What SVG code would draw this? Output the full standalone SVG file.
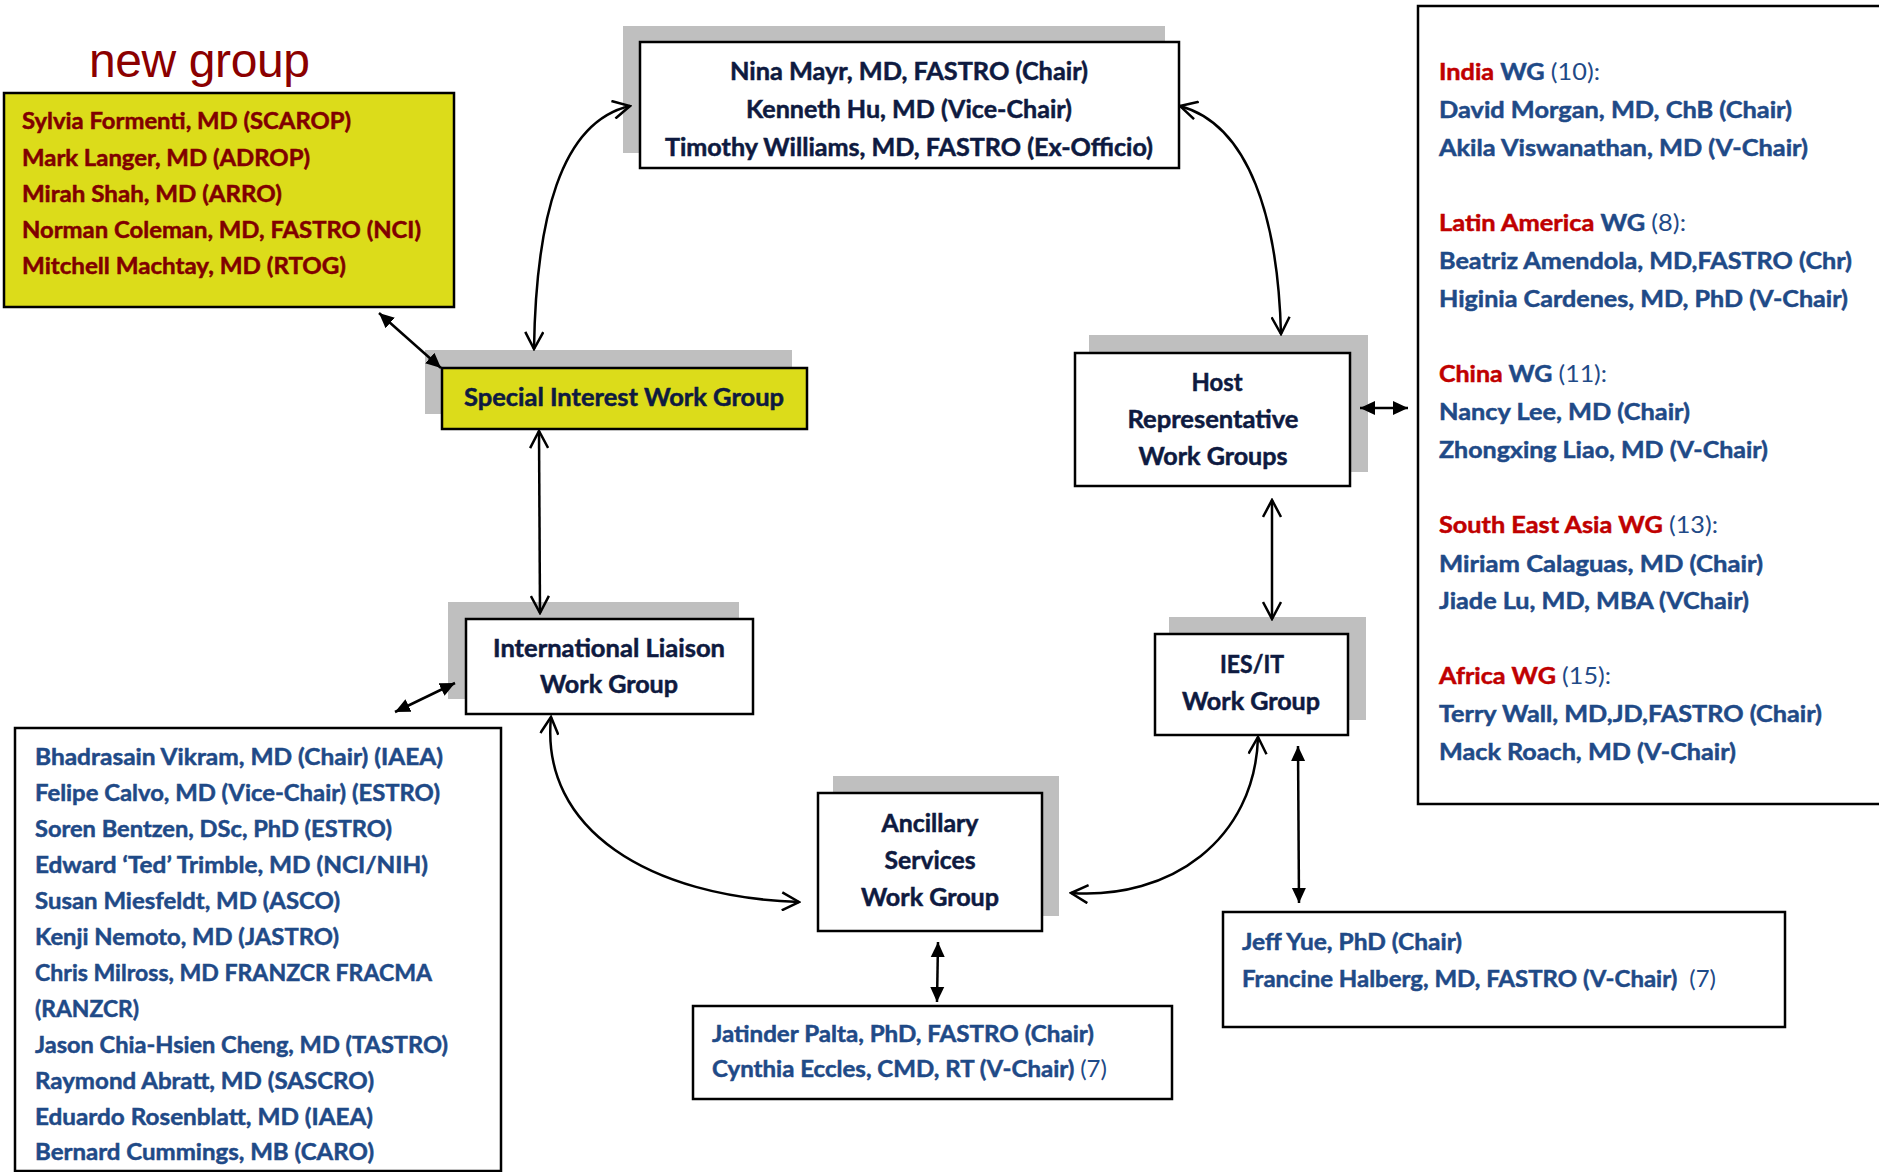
<svg xmlns="http://www.w3.org/2000/svg" width="1879" height="1172" viewBox="0 0 1879 1172">
<style>
.box{fill:#fff;stroke:#000;stroke-width:2.5}
.ybox{fill:#dcdc1a;stroke:#000;stroke-width:2.5}
.shadow{fill:#bfbfbf}
.lbl{font-family:Lato,"Liberation Sans",sans-serif;font-weight:bold;font-size:24px;fill:#0e1a40;stroke:#0e1a40;stroke-width:0.5;text-anchor:middle}
.mem{font-family:Lato,"Liberation Sans",sans-serif;font-weight:bold;font-size:23px;fill:#1f4a87;stroke:#1f4a87;stroke-width:0.5}
.red{fill:#c00000;stroke:#c00000}
.reg{font-weight:normal;stroke-width:0}
.dred{font-family:Lato,"Liberation Sans",sans-serif;font-weight:bold;font-size:23px;fill:#800000;stroke:#800000;stroke-width:0.5}
.con{fill:none;stroke:#000;stroke-width:2.5}
</style>
<defs>
<marker id="open" viewBox="0 0 20 20" refX="18" refY="10" markerWidth="20" markerHeight="20" markerUnits="userSpaceOnUse" orient="auto-start-reverse">
<path d="M1,1 L18,10 L1,19" fill="none" stroke="#000" stroke-width="2.5"/>
</marker>
<marker id="fill" viewBox="0 0 16 16" refX="15" refY="8" markerWidth="16" markerHeight="16" markerUnits="userSpaceOnUse" orient="auto-start-reverse">
<path d="M0,1 L15,8 L0,15 Z" fill="#000"/>
</marker>
</defs>
<rect width="1879" height="1172" fill="#fff"/>

<text x="89" y="77" font-family="Liberation Sans, Arial, sans-serif" font-size="48" fill="#8b0000" textLength="221">new group</text>

<g id="new-group">
<rect class="ybox" x="4" y="93" width="450" height="214"/>
<text class="dred" x="22" y="129" textLength="329" lengthAdjust="spacingAndGlyphs">Sylvia Formenti, MD (SCAROP)</text>
<text class="dred" x="22" y="166" textLength="288" lengthAdjust="spacingAndGlyphs">Mark Langer, MD (ADROP)</text>
<text class="dred" x="22" y="202" textLength="260" lengthAdjust="spacingAndGlyphs">Mirah Shah, MD (ARRO)</text>
<text class="dred" x="22" y="238" textLength="399" lengthAdjust="spacingAndGlyphs">Norman Coleman, MD, FASTRO (NCI)</text>
<text class="dred" x="22" y="274" textLength="324" lengthAdjust="spacingAndGlyphs">Mitchell Machtay, MD (RTOG)</text>
</g>

<g id="chairs">
<rect class="shadow" x="623" y="26" width="542" height="127"/>
<rect class="box" x="640" y="42" width="539" height="126"/>
<text class="lbl" x="909" y="80" textLength="358" lengthAdjust="spacingAndGlyphs">Nina Mayr, MD, FASTRO (Chair)</text>
<text class="lbl" x="909" y="118" textLength="326" lengthAdjust="spacingAndGlyphs">Kenneth Hu, MD (Vice-Chair)</text>
<text class="lbl" x="909" y="156" textLength="488" lengthAdjust="spacingAndGlyphs">Timothy Williams, MD, FASTRO (Ex-Officio)</text>
</g>

<g id="siwg">
<rect class="shadow" x="425" y="350" width="367" height="64"/>
<rect class="ybox" x="442" y="368" width="365" height="61"/>
<text class="lbl" x="624" y="406" textLength="320" lengthAdjust="spacingAndGlyphs">Special Interest Work Group</text>
</g>

<g id="ilwg">
<rect class="shadow" x="448" y="602" width="291" height="97"/>
<rect class="box" x="466" y="619" width="287" height="95"/>
<text class="lbl" x="609" y="657" textLength="232" lengthAdjust="spacingAndGlyphs">International Liaison</text>
<text class="lbl" x="609" y="693" textLength="138" lengthAdjust="spacingAndGlyphs">Work Group</text>
</g>

<g id="host">
<rect class="shadow" x="1089" y="335" width="279" height="137"/>
<rect class="box" x="1075" y="353" width="275" height="133"/>
<text class="lbl" x="1217" y="391" textLength="51" lengthAdjust="spacingAndGlyphs">Host</text>
<text class="lbl" x="1213" y="428" textLength="171" lengthAdjust="spacingAndGlyphs">Representative</text>
<text class="lbl" x="1213" y="465" textLength="149" lengthAdjust="spacingAndGlyphs">Work Groups</text>
</g>

<g id="iesit">
<rect class="shadow" x="1169" y="617" width="197" height="103"/>
<rect class="box" x="1155" y="634" width="193" height="101"/>
<text class="lbl" x="1252" y="673" textLength="64" lengthAdjust="spacingAndGlyphs">IES/IT</text>
<text class="lbl" x="1251" y="710" textLength="138" lengthAdjust="spacingAndGlyphs">Work Group</text>
</g>

<g id="ancillary">
<rect class="shadow" x="833" y="776" width="226" height="140"/>
<rect class="box" x="818" y="793" width="224" height="138"/>
<text class="lbl" x="930" y="832" textLength="97" lengthAdjust="spacingAndGlyphs">Ancillary</text>
<text class="lbl" x="930" y="869" textLength="91" lengthAdjust="spacingAndGlyphs">Services</text>
<text class="lbl" x="930" y="906" textLength="138" lengthAdjust="spacingAndGlyphs">Work Group</text>
</g>

<g id="regional-wgs">
<rect class="box" x="1418" y="6" width="480" height="798" stroke-width="2"/>
<text class="mem" x="1439" y="80" textLength="161" lengthAdjust="spacingAndGlyphs"><tspan class="red">India</tspan> WG <tspan class="reg">(10):</tspan></text>
<text class="mem" x="1439" y="118" textLength="353" lengthAdjust="spacingAndGlyphs">David Morgan, MD, ChB (Chair)</text>
<text class="mem" x="1439" y="156" textLength="369" lengthAdjust="spacingAndGlyphs">Akila Viswanathan, MD (V-Chair)</text>
<text class="mem" x="1439" y="231" textLength="247" lengthAdjust="spacingAndGlyphs"><tspan class="red">Latin America</tspan> WG <tspan class="reg">(8):</tspan></text>
<text class="mem" x="1439" y="269" textLength="413" lengthAdjust="spacingAndGlyphs">Beatriz Amendola, MD,FASTRO (Chr)</text>
<text class="mem" x="1439" y="307" textLength="409" lengthAdjust="spacingAndGlyphs">Higinia Cardenes, MD, PhD (V-Chair)</text>
<text class="mem" x="1439" y="382" textLength="168" lengthAdjust="spacingAndGlyphs"><tspan class="red">China</tspan> WG <tspan class="reg">(11):</tspan></text>
<text class="mem" x="1439" y="420" textLength="251" lengthAdjust="spacingAndGlyphs">Nancy Lee, MD (Chair)</text>
<text class="mem" x="1439" y="458" textLength="329" lengthAdjust="spacingAndGlyphs">Zhongxing Liao, MD (V-Chair)</text>
<text class="mem" x="1439" y="533" textLength="279" lengthAdjust="spacingAndGlyphs"><tspan class="red">South East Asia WG</tspan> <tspan class="reg">(13):</tspan></text>
<text class="mem" x="1439" y="572" textLength="324" lengthAdjust="spacingAndGlyphs">Miriam Calaguas, MD (Chair)</text>
<text class="mem" x="1439" y="609" textLength="310" lengthAdjust="spacingAndGlyphs">Jiade Lu, MD, MBA (VChair)</text>
<text class="mem" x="1439" y="684" textLength="172" lengthAdjust="spacingAndGlyphs"><tspan class="red">Africa WG</tspan> <tspan class="reg">(15):</tspan></text>
<text class="mem" x="1439" y="722" textLength="383" lengthAdjust="spacingAndGlyphs">Terry Wall, MD,JD,FASTRO (Chair)</text>
<text class="mem" x="1439" y="760" textLength="297" lengthAdjust="spacingAndGlyphs">Mack Roach, MD (V-Chair)</text>
</g>

<g id="il-members">
<rect class="box" x="15" y="728" width="486" height="443" stroke-width="2"/>
<text class="mem" x="35" y="765" textLength="408" lengthAdjust="spacingAndGlyphs">Bhadrasain Vikram, MD (Chair) (IAEA)</text>
<text class="mem" x="35" y="801" textLength="405" lengthAdjust="spacingAndGlyphs">Felipe Calvo, MD (Vice-Chair) (ESTRO)</text>
<text class="mem" x="35" y="837" textLength="357" lengthAdjust="spacingAndGlyphs">Soren Bentzen, DSc, PhD (ESTRO)</text>
<text class="mem" x="35" y="873" textLength="393" lengthAdjust="spacingAndGlyphs">Edward ‘Ted’ Trimble, MD (NCI/NIH)</text>
<text class="mem" x="35" y="909" textLength="305" lengthAdjust="spacingAndGlyphs">Susan Miesfeldt, MD (ASCO)</text>
<text class="mem" x="35" y="945" textLength="304" lengthAdjust="spacingAndGlyphs">Kenji Nemoto, MD (JASTRO)</text>
<text class="mem" x="35" y="981" textLength="397" lengthAdjust="spacingAndGlyphs">Chris Milross, MD FRANZCR FRACMA</text>
<text class="mem" x="35" y="1017" textLength="104" lengthAdjust="spacingAndGlyphs">(RANZCR)</text>
<text class="mem" x="35" y="1053" textLength="413" lengthAdjust="spacingAndGlyphs">Jason Chia-Hsien Cheng, MD (TASTRO)</text>
<text class="mem" x="35" y="1089" textLength="339" lengthAdjust="spacingAndGlyphs">Raymond Abratt, MD (SASCRO)</text>
<text class="mem" x="35" y="1125" textLength="338" lengthAdjust="spacingAndGlyphs">Eduardo Rosenblatt, MD (IAEA)</text>
<text class="mem" x="35" y="1160" textLength="339" lengthAdjust="spacingAndGlyphs">Bernard Cummings, MB (CARO)</text>
</g>

<g id="ancillary-members">
<rect class="box" x="693" y="1006" width="479" height="93" stroke-width="2"/>
<text class="mem" x="712" y="1042" textLength="382" lengthAdjust="spacingAndGlyphs">Jatinder Palta, PhD, FASTRO (Chair)</text>
<text class="mem" x="712" y="1077" textLength="395" lengthAdjust="spacingAndGlyphs">Cynthia Eccles, CMD, RT (V-Chair) <tspan class="reg">(7)</tspan></text>
</g>

<g id="iesit-members">
<rect class="box" x="1223" y="912" width="562" height="115" stroke-width="2"/>
<text class="mem" x="1242" y="950" textLength="220" lengthAdjust="spacingAndGlyphs">Jeff Yue, PhD (Chair)</text>
<text class="mem" x="1242" y="987" textLength="474" lengthAdjust="spacingAndGlyphs">Francine Halberg, MD, FASTRO (V-Chair) <tspan class="reg" dx="6">(7)</tspan></text>
</g>

<g id="connectors">
<path class="con" d="M630,106 C560,122 536,220 534,349" marker-start="url(#open)" marker-end="url(#open)"/>
<path class="con" d="M1180,106 C1250,125 1278,220 1281,334" marker-start="url(#open)" marker-end="url(#open)"/>
<path class="con" d="M539,431 L540,613" marker-start="url(#open)" marker-end="url(#open)"/>
<path class="con" d="M1272,500 L1272,619" marker-start="url(#open)" marker-end="url(#open)"/>
<path class="con" d="M551,717 C540,830 650,897 799,902" marker-start="url(#open)" marker-end="url(#open)"/>
<path class="con" d="M1258,737 C1255,840 1170,900 1071,893" marker-start="url(#open)" marker-end="url(#open)"/>
<path class="con" d="M379,313 L441,368" marker-start="url(#fill)" marker-end="url(#fill)"/>
<path class="con" d="M395,712 L455,683" marker-start="url(#fill)" marker-end="url(#fill)"/>
<path class="con" d="M1360,408 L1408,408" marker-start="url(#fill)" marker-end="url(#fill)"/>
<path class="con" d="M938,942 L937,1002" marker-start="url(#fill)" marker-end="url(#fill)"/>
<path class="con" d="M1298,746 L1299,903" marker-start="url(#fill)" marker-end="url(#fill)"/>
</g>
</svg>
